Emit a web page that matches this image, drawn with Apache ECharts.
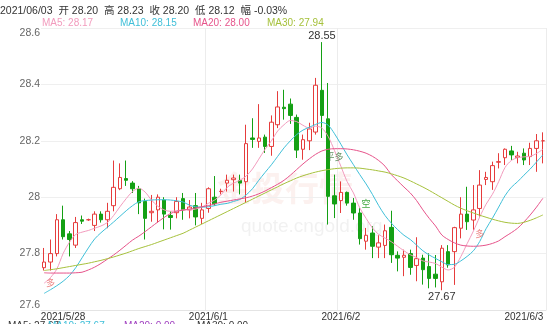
<!DOCTYPE html>
<html><head><meta charset="utf-8">
<script src="https://cdn.jsdelivr.net/npm/echarts@6/dist/echarts.min.js"></script>
<style>html,body{margin:0;padding:0;background:#fff}#c{width:552px;height:324px}</style>
</head><body><div id="c"></div>
<script>
// [open, close, low, high]
const candles = [
[27.75,27.77,27.74,27.82],[27.77,27.80,27.74,27.85],[27.80,27.92,27.79,27.94],[27.92,27.86,27.85,27.97],
[27.87,27.85,27.79,27.88],[27.83,27.91,27.82,27.93],[27.92,27.915,27.905,27.935],[27.92,27.92,27.916,27.924],
[27.90,27.94,27.88,27.95],[27.94,27.92,27.91,27.95],[27.92,27.95,27.89,27.98],[27.97,28.035,27.95,28.13],
[28.03,28.07,28.025,28.12],[28.066,28.06,28.04,28.13],[28.05,28.03,28.015,28.057],[28.03,27.98,27.94,28.04],
[27.985,27.925,27.85,27.995],[27.945,27.95,27.913,28.008],[27.955,28.0,27.91,28.01],[27.99,27.94,27.886,28.0],
[27.935,27.928,27.885,27.95],[27.945,27.985,27.925,28.0],[27.995,27.955,27.92,28.015],[27.955,27.965,27.925,27.99],
[27.97,27.93,27.90,28.015],[27.925,27.955,27.905,27.98],[27.96,28.03,27.945,28.035],[28.0,27.977,27.97,28.075],
[28.02,28.021,28.01,28.03],[28.05,28.06,28.02,28.08],[28.062,28.068,28.02,28.08],[28.059,28.05,28.01,28.08],
[28.055,28.19,27.98,28.257],[28.21,28.205,28.175,28.28],[28.198,28.21,28.175,28.33],[28.213,28.18,28.157,28.222],
[28.18,28.266,28.147,28.29],[28.257,28.32,28.245,28.376],[28.319,28.314,28.275,28.381],[28.33,28.29,28.26,28.35],
[28.283,28.167,28.139,28.293],[28.17,28.204,28.133,28.222],[28.2,28.242,28.167,28.264],[28.231,28.397,28.222,28.423],
[28.379,28.29,28.21,28.55],[28.278,28.003,27.903,28.405],[28.005,27.976,27.926,28.08],[27.988,28.017,27.944,28.056],
[28.017,27.979,27.97,28.02],[27.979,27.944,27.92,27.997],[27.944,27.853,27.832,27.962],[27.844,27.865,27.814,27.891],
[27.873,27.826,27.784,27.897],[27.823,27.838,27.784,27.865],[27.829,27.881,27.784,27.903],[27.893,27.796,27.767,27.952],
[27.794,27.784,27.737,27.808],[27.787,27.794,27.72,27.814],[27.8,27.751,27.725,27.814],[27.758,27.782,27.702,27.858],
[27.784,27.743,27.69,27.796],[27.754,27.712,27.677,27.801],[27.727,27.712,27.68,27.795],[27.70,27.819,27.67,27.83],
[27.807,27.76,27.75,27.83],[27.807,27.892,27.689,27.895],[27.89,27.94,27.854,28.0],[27.94,27.913,27.884,28.037],
[27.919,27.955,27.884,28.043],[27.96,28.043,27.931,28.096],[28.063,28.07,28.043,28.09],[28.055,28.112,28.026,28.126],
[28.124,28.126,28.102,28.156],[28.14,28.17,28.114,28.173],[28.164,28.15,28.132,28.182],[28.141,28.146,28.12,28.161],
[28.156,28.132,28.114,28.173],[28.144,28.173,28.114,28.193],[28.173,28.2,28.09,28.224],[28.20,28.20,28.12,28.23]
];
const ma5 = [27.695,27.715,27.745,27.800,27.840,27.868,27.876,27.882,27.890,27.898,
27.910,27.935,27.966,27.995,28.020,28.032,28.018,27.990,27.968,27.955,
27.950,27.952,27.955,27.955,27.958,27.965,27.978,27.990,28.008,28.035,
28.050,28.060,28.075,28.100,28.135,28.170,28.200,28.235,28.257,28.272,
28.268,28.255,28.245,28.252,28.245,28.215,28.165,28.110,28.055,28.015,
27.962,27.925,27.891,27.868,27.855,27.842,27.826,27.810,27.796,27.786,
27.774,27.770,27.765,27.752,27.742,27.752,27.789,27.835,27.880,27.930,
27.975,28.010,28.055,28.105,28.130,28.140,28.143,28.145,28.155,28.170];
const ma10 = [27.659,27.672,27.686,27.702,27.722,27.750,27.785,27.820,27.852,27.874,
27.893,27.912,27.932,27.952,27.970,27.984,27.988,27.990,27.991,27.991,
27.990,27.987,27.983,27.972,27.966,27.965,27.966,27.970,27.975,27.978,
27.985,27.992,28.008,28.030,28.060,28.088,28.115,28.145,28.175,28.200,
28.222,28.238,28.248,28.258,28.265,28.255,28.225,28.188,28.150,28.115,
28.080,28.047,28.010,27.970,27.935,27.908,27.885,27.865,27.850,27.830,
27.810,27.795,27.783,27.771,27.761,27.762,27.774,27.790,27.810,27.843,
27.888,27.925,27.965,28.005,28.035,28.055,28.078,28.100,28.125,28.150];
const ma20 = [27.732,27.731,27.731,27.731,27.731,27.732,27.734,27.742,27.752,27.765,
27.780,27.795,27.812,27.830,27.848,27.862,27.878,27.895,27.912,27.928,
27.942,27.950,27.954,27.958,27.962,27.966,27.970,27.976,27.982,27.986,
27.990,27.994,27.998,28.004,28.012,28.022,28.034,28.046,28.060,28.078,
28.098,28.118,28.136,28.152,28.164,28.170,28.172,28.172,28.171,28.168,
28.163,28.156,28.145,28.130,28.110,28.080,28.058,28.036,28.015,27.988,
27.955,27.925,27.898,27.866,27.850,27.838,27.830,27.827,27.826,27.827,
27.830,27.836,27.845,27.860,27.874,27.890,27.912,27.937,27.965,27.996];
const ma30 = [27.740,27.743,27.746,27.750,27.754,27.758,27.762,27.766,27.771,27.776,
27.782,27.788,27.795,27.802,27.810,27.818,27.825,27.832,27.840,27.848,
27.856,27.864,27.872,27.883,27.894,27.905,27.916,27.927,27.938,27.949,
27.960,27.971,27.982,27.993,28.004,28.015,28.026,28.037,28.048,28.058,
28.068,28.076,28.083,28.089,28.094,28.098,28.101,28.103,28.104,28.104,
28.103,28.100,28.097,28.093,28.089,28.083,28.076,28.068,28.058,28.047,
28.036,28.024,28.011,27.998,27.985,27.972,27.961,27.952,27.944,27.936,
27.929,27.922,27.916,27.911,27.908,27.907,27.911,27.918,27.927,27.937];
const dateLabelIdx = [3, 26, 47, 76];
const dateLabels = ['2021/5/28', '2021/6/1', '2021/6/2', '2021/6/3'];
const splitIdx = [26, 47];
const yTicks = [27.6, 28.6, 0.2]; // min, max, step
const headDate = '2021/06/03';
const headNames = ['开', '高', '收', '低', '幅'];
const headValues = ['28.20', '28.23', '28.20', '28.12', '-0.03%'];
const maNames = ['MA5', 'MA10', 'MA20', 'MA30'];
const maColors = ['#f29bbd', '#3fbfd8', '#e6538a', '#a6c13c'];
const signals = [
  {i: 1, p: 27.695, t: '多', c: 'rgba(230,90,90,0.75)'},
  {i: 46, p: 28.14, t: '平多', c: 'rgba(60,120,60,0.8)'},
  {i: 51, p: 27.973, t: '空', c: 'rgba(30,150,30,0.85)'},
  {i: 69, p: 27.866, t: '多', c: 'rgba(230,90,90,0.75)'}
];

const categories = candles.map((_, i) => 'k' + i);
const FONT = "'Liberation Sans','Noto Sans CJK SC',sans-serif";
const chart = echarts.init(document.getElementById('c'), null, {renderer: 'canvas'});

const maSeries = [ma5, ma10, ma20, ma30].map((d, k) => ({
  name: maNames[k], type: 'line', data: d, showSymbol: false, smooth: 0.3,
  lineStyle: {width: 1, color: maColors[k]}, itemStyle: {color: maColors[k]}, z: 3, silent: true
}));

const headText = headDate + '  ' + headNames.map((n, k) => n + ' ' + headValues[k]).join('  ');
const legendX = [42, 120, 193, 267];
const legendLast = [ma5, ma10, ma20, ma30].map(d => d[d.length - 1].toFixed(2));

const graphics = [
  {type: 'text', x: 0, y: 11, style: {text: headText, fill: '#333', font: '10.5px ' + FONT, textVerticalAlign: 'middle'}},
  ...maNames.map((n, k) => ({type: 'text', x: legendX[k], y: 23, style: {text: n + ': ' + legendLast[k], fill: maColors[k], font: '10px ' + FONT, textVerticalAlign: 'middle'}})),
  {type: 'text', x: 217, y: 192, z: -1, silent: true, style: {text: '金投行情', fill: 'rgba(225,120,100,0.10)', font: 'bold 34px ' + FONT, textVerticalAlign: 'middle'}},
  {type: 'text', x: 241, y: 227, z: -1, silent: true, style: {text: 'quote.cngold.org', fill: 'rgba(170,170,170,0.16)', font: '19px ' + FONT, textVerticalAlign: 'middle'}},
  {type: 'rect', x: 200, y: 180, rotation: Math.PI / 4, originX: 200, originY: 195, z: -1, silent: true, shape: {x: 186, y: 181, width: 28, height: 28}, style: {fill: 'rgba(225,120,100,0.08)'}},
  {type: 'text', x: 8, y: 321, style: {text: 'MA5: 27.67', fill: '#333', font: '10px ' + FONT}},
  {type: 'text', x: 48, y: 321, style: {text: 'MA10: 27.67', fill: '#3fbfd8', font: '10px ' + FONT}},
  {type: 'text', x: 124, y: 321, style: {text: 'MA20: 0.00', fill: '#a040c0', font: '10px ' + FONT}},
  {type: 'text', x: 197, y: 321, style: {text: 'MA30: 0.00', fill: '#333', font: '10px ' + FONT}}
];

const option = {
  animation: false,
  grid: {left: 41, right: 6, top: 28, bottom: 14},
  xAxis: {
    type: 'category', data: categories, boundaryGap: true,
    axisLine: {show: true, lineStyle: {color: '#e4e4e4'}},
    axisTick: {show: false},
    axisLabel: {
      interval: (i) => dateLabelIdx.includes(i),
      formatter: (v, i) => dateLabels[dateLabelIdx.indexOf(i)] || '',
      color: '#333', fontSize: 10, fontFamily: FONT, margin: 2
    },
    splitLine: {show: true, interval: (i) => splitIdx.includes(i), lineStyle: {color: '#ececec', width: 1}}
  },
  yAxis: {
    type: 'value', min: yTicks[0], max: yTicks[1], interval: yTicks[2], scale: true,
    axisLine: {show: false}, axisTick: {show: false},
    axisLabel: {color: '#666', fontSize: 10.5, fontFamily: FONT, margin: 1,
      verticalAlignMaxLabel: 'top', verticalAlignMinLabel: 'bottom',
      formatter: (v) => String(+v.toFixed(1))},
    splitLine: {lineStyle: {color: '#efefef'}}
  },
  graphic: graphics,
  series: [
    {
      type: 'candlestick', data: candles, barWidth: 4, z: 2,
      itemStyle: {color: '#ffffff', color0: '#14a014', borderColor: '#e63c3c', borderColor0: '#14a014', borderWidth: 1},
      markPoint: {
        silent: true, animation: false,
        symbol: 'circle', symbolSize: 1, itemStyle: {color: 'rgba(0,0,0,0)'},
        data: [
          {type: 'max', valueDim: 'highest', label: {show: true, position: 'top', distance: 0, color: '#333', fontSize: 11, fontFamily: FONT, formatter: (p) => (+p.value).toFixed(2)}},
          {type: 'min', valueDim: 'lowest', label: {show: true, position: 'bottom', distance: 1, color: '#333', fontSize: 11, fontFamily: FONT, formatter: (p) => (+p.value).toFixed(2)}},
          ...signals.map(s => ({coord: [categories[s.i], s.p], label: {show: true, position: 'inside', color: s.c, fontSize: 9, fontFamily: FONT, formatter: s.t}}))
        ]
      }
    },
    ...maSeries
  ]
};
chart.setOption(option);
</script>
</body></html>
